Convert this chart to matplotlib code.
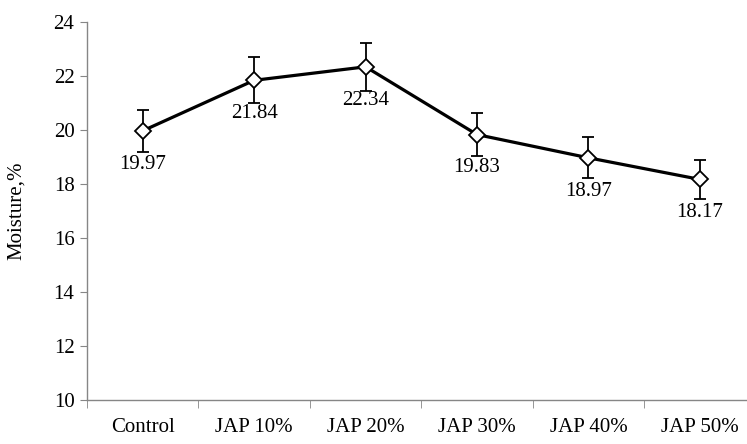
import matplotlib

matplotlib.use("Agg")
import matplotlib.pyplot as plt
import numpy as np

# Данные
CATEGORIES = ["Control", "JAP 10%", "JAP 20%", "JAP 30%", "JAP 40%", "JAP 50%"]
MOISTURE = [19.97, 21.84, 22.34, 19.83, 18.97, 18.17]
ERRORS = [0.78, 0.85, 0.90, 0.79, 0.76, 0.72]
Y_TICKS = [10, 12, 14, 16, 18, 20, 22, 24]

plt.rcParams["font.family"] = ["Liberation Serif", "DejaVu Serif"]
FS = 15

fig = plt.figure(figsize=(7.47, 4.44), dpi=100)
ax = fig.add_axes([87 / 747, 44 / 444, 668.6 / 747, 378 / 444])

x = np.arange(len(CATEGORIES))
ax.errorbar(x, MOISTURE, yerr=ERRORS, fmt="none", ecolor="black",
            elinewidth=1.3, capsize=4, capthick=1.3, zorder=2)
ax.plot(x, MOISTURE, color="black", lw=2.3, marker="D", ms=8,
        mfc="white", mec="black", mew=1.3, zorder=3)

for xi, v in zip(x, MOISTURE):
    ax.annotate(f"{v:.2f}", xy=(xi, v), xytext=(0, -24),
                textcoords="offset points", ha="center", va="center",
                fontsize=FS)

ax.set_xlim(-0.5, len(CATEGORIES) - 0.5)
ax.set_ylim(10, 24)
ax.set_yticks(Y_TICKS)
ax.set_yticklabels([str(t) for t in Y_TICKS], fontsize=FS)

# категории подписаны по центру, засечки — на границах
ax.set_xticks(x)
ax.set_xticklabels(CATEGORIES, fontsize=FS)
ax.set_xticks(np.arange(len(CATEGORIES) + 1) - 0.5, minor=True)
ax.tick_params(axis="x", which="major", length=0, pad=13)
ax.tick_params(axis="x", which="minor", length=6, color="#868686", direction="out")
ax.tick_params(axis="y", length=5, color="#868686", direction="out", pad=4)

ax.set_ylabel("Moisture,%", fontsize=FS, labelpad=20)

for side in ("top", "right"):
    ax.spines[side].set_visible(False)
for side in ("left", "bottom"):
    ax.spines[side].set_color("#868686")
    ax.spines[side].set_linewidth(1.0)

fig.savefig("out.png", dpi=100)
